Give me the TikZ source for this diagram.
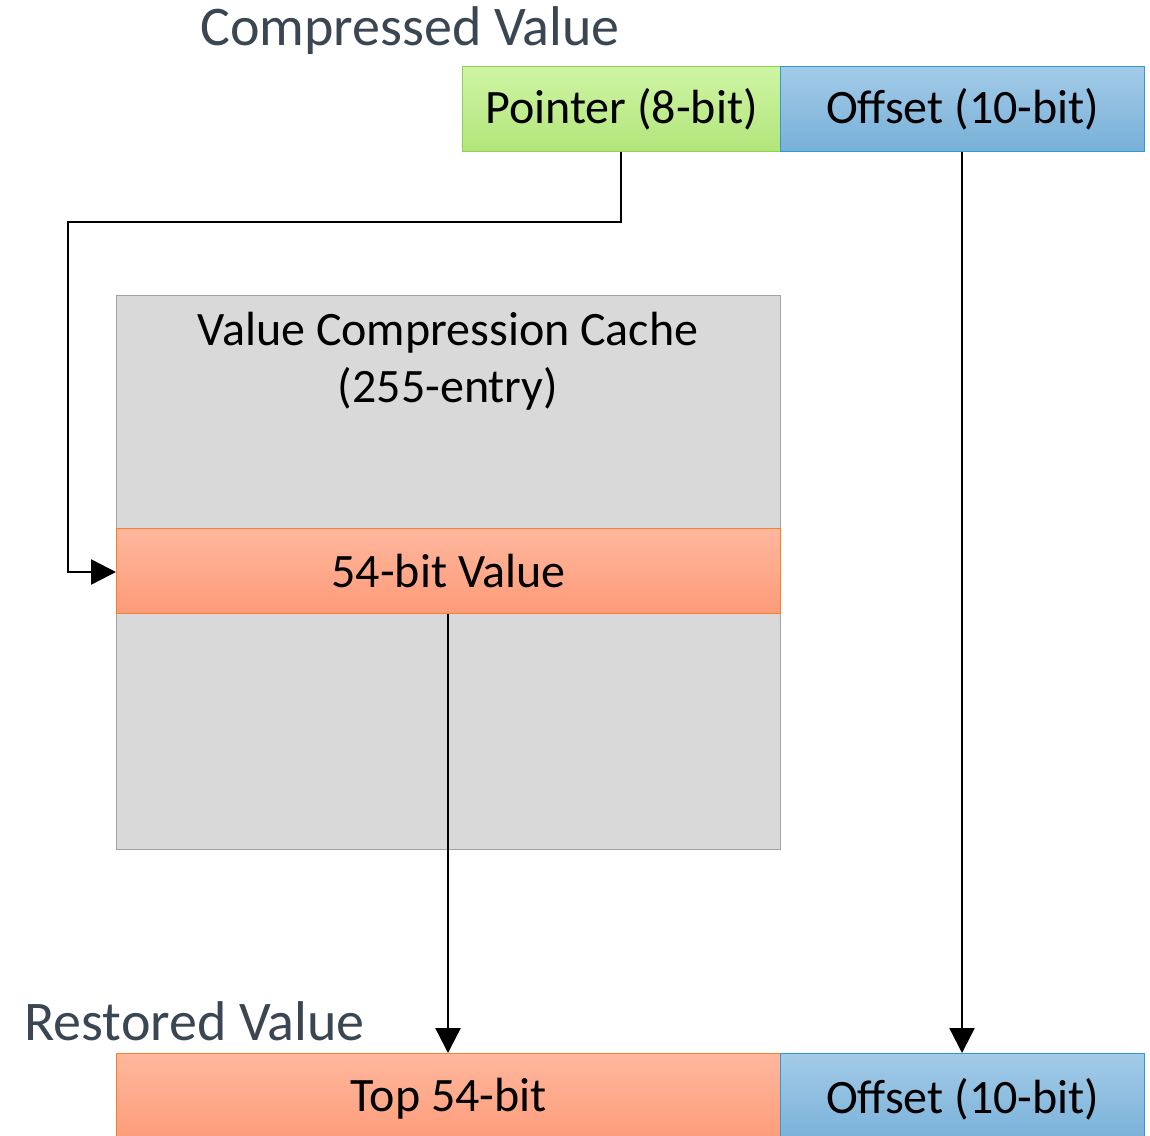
\documentclass[tikz,border=0pt]{standalone}
\usepackage{fontspec}
\setmainfont{Carlito}
\usetikzlibrary{arrows.meta,positioning}
\definecolor{titlegray}{HTML}{3B4653}
\definecolor{grntop}{HTML}{CFF5A4}
\definecolor{grnbot}{HTML}{B2E57B}
\definecolor{grnline}{HTML}{8CD24A}
\definecolor{blutop}{HTML}{A3CBE8}
\definecolor{blubot}{HTML}{78B0D8}
\definecolor{bluline}{HTML}{2E9AD0}
\definecolor{orgtop}{HTML}{FFB79D}
\definecolor{orgbot}{HTML}{FD9B78}
\definecolor{orgline}{HTML}{F5802E}
\definecolor{cachefill}{HTML}{D9D9D9}
\definecolor{cacheline}{HTML}{A0A4A8}
\tikzset{
  x=1pt, y=-1pt,
  field/.style={minimum height=85pt, inner sep=0pt, line width=1.3pt, font=\fontsize{48}{57}\selectfont, text=black, anchor=north west},
  greenfield/.style={field, draw=grnline, top color=grntop, bottom color=grnbot},
  bluefield/.style={field, draw=bluline, top color=blutop, bottom color=blubot},
  orangefield/.style={field, draw=orgline, top color=orgtop, bottom color=orgbot},
  title/.style={font=\fontsize{56}{60}\selectfont, text=titlegray, inner sep=0pt},
  conn/.style={line width=2.4pt, -{Triangle[length=25pt,width=25pt]}},
}
\begin{document}
\begin{tikzpicture}
\useasboundingbox (0,0) rectangle (1150,1135);
% compressed value
\node[title, anchor=base west] (ctitle) at (200,45) {Compressed Value};
\node[greenfield, minimum width=318pt] (ptr) at (462,66) {Pointer (8-bit)};
\node[bluefield, minimum width=364pt] (off) at (780,66) {Offset (10-bit)};
% cache
\node[draw=cacheline, fill=cachefill, line width=1.2pt, minimum width=664pt, minimum height=554pt, anchor=north west, inner sep=0pt] (cache) at (116,295) {};
\node[font=\fontsize{48}{57}\selectfont, align=center, inner sep=0pt, anchor=north] (ctext) at (448,312) {Value Compression Cache\\(255-entry)};
\node[orangefield, minimum width=664pt] (val) at (116,528) {54-bit Value};
% restored value
\node[title, anchor=base west] (rtitle) at (24,1040) {Restored Value};
\node[orangefield, minimum width=664pt, minimum height=91pt] (top) at (116,1053) {Top 54-bit};
\node[bluefield, minimum width=364pt, minimum height=91pt] (roff) at (780,1053) {Offset (10-bit)};
% connectors
\coordinate (c1) at (621,222);
\coordinate (c2) at (68,222);
\coordinate (c3) at (68,572);
\draw[conn] (ptr.south -| c1) -- (c1) -- (c2) -- (c3) -- (val.west |- c3);
\draw[conn] (off.south -| 962,0) -- (roff.north -| 962,0);
\draw[conn] (val.south -| 448,0) -- (top.north -| 448,0);
\end{tikzpicture}
\end{document}
